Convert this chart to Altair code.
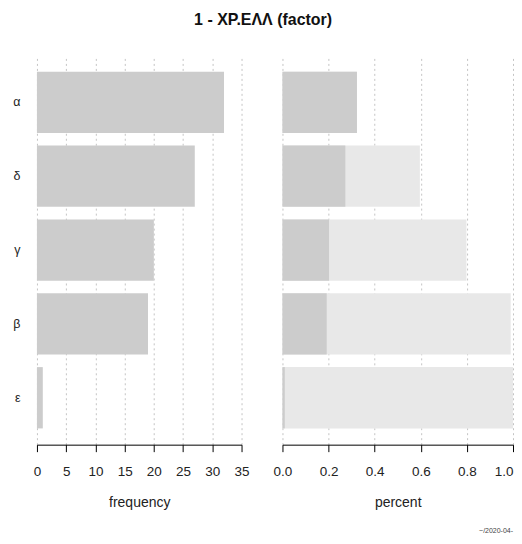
import altair as alt
import pandas as pd

categories = ["α", "δ", "γ", "β", "ε"]
frequency = [32, 27, 20, 19, 1]
freq_ticks = [0, 5, 10, 15, 20, 25, 30, 35]
pct_ticks = [0.0, 0.2, 0.4, 0.6, 0.8, 1.0]

total = sum(frequency)
percent = [f / total for f in frequency]
cumulative = []
run = 0.0
for p in percent:
    run += p
    cumulative.append(run)

df = pd.DataFrame({"cat": categories, "freq": frequency, "pct": percent, "cum": cumulative})

FONT = "Liberation Sans"
H = 390
ysc = alt.Scale(paddingInner=0.17, paddingOuter=0.22)

left = alt.Chart(df).mark_bar(color="#cccccc").encode(
    y=alt.Y("cat:N", sort=categories, scale=ysc, title=None,
            axis=alt.Axis(domain=False, ticks=False, labelPadding=17, labelFontSize=12.5,
                          labelColor="#222222", grid=False)),
    x=alt.X("freq:Q", scale=alt.Scale(domain=[0, 35], nice=False),
            title="frequency",
            axis=alt.Axis(values=freq_ticks, format="d")),
).properties(width=205, height=H)

base_r = alt.Chart(df)
light = base_r.mark_bar(color="#e8e8e8").encode(
    y=alt.Y("cat:N", sort=categories, scale=ysc, axis=None),
    x=alt.X("cum:Q", scale=alt.Scale(domain=[0, 1], nice=False), title="percent",
            axis=alt.Axis(values=pct_ticks, format=".1f",
                          labelAlign=alt.expr("datum.value >= 1 ? 'right' : 'center'"))),
)
dark = base_r.mark_bar(color="#cccccc").encode(
    y=alt.Y("cat:N", sort=categories, scale=ysc, axis=None),
    x=alt.X("pct:Q"),
)
note = alt.Chart(pd.DataFrame({"t": ["~/2020-04-"]})).mark_text(
    font=FONT, fontSize=7, color="#444444", align="right", baseline="middle"
).encode(text="t:N", x=alt.value(231), y=alt.value(H + 87))

right = alt.layer(light, dark, note).properties(width=231, height=H)

chart = alt.hconcat(left, right, spacing=41, bounds="flush").properties(
    title=alt.TitleParams("1 - ΧΡ.ΕΛΛ (factor)", font=FONT, fontSize=16, fontWeight="bold",
                          color="#111111", anchor="middle", offset=27),
    padding={"left": 4, "top": 4, "right": 0, "bottom": 0},
).configure_view(stroke=None).configure_axis(
    labelFont=FONT, titleFont=FONT, labelFontSize=13.5, titleFontSize=14,
    labelColor="#222222", titleColor="#222222", titleFontWeight="normal",
    domainColor="#000000", tickColor="#000000", tickSize=7,
    labelPadding=13, titlePadding=17, labelFlush=False,
    gridColor="#c4c4c4", gridDash=[2, 3], zindex=1,
)

chart.save("out.html", embed_options={"renderer": "svg", "actions": False})
